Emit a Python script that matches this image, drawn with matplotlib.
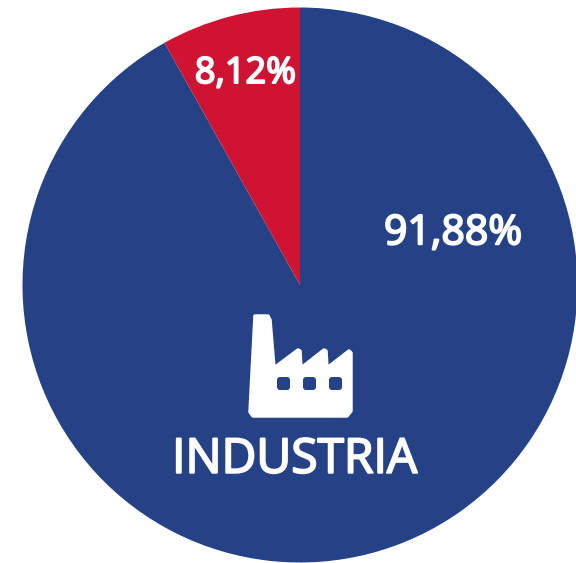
import matplotlib
matplotlib.use("Agg")
import matplotlib.pyplot as plt
import matplotlib.patheffects as pe
from matplotlib.path import Path
from matplotlib.patches import PathPatch, FancyBboxPatch

labels = ["91,88%", "8,12%"]
values = [91.88, 8.12]
colors = ["#264287", "#CE1432"]
title = "INDUSTRIA"

W, H = 576, 563
fig = plt.figure(figsize=(W/100, H/100), dpi=100)
ax = fig.add_axes([0, 0, 1, 1])
cx, cy, r = 300, 285, 277.5
ax.pie(values, colors=colors, startangle=90, counterclock=False,
       center=(cx, H-cy), radius=r, frame=True)
ax.set_xlim(0, W); ax.set_ylim(0, H); ax.axis("off")

def T(x, y, s, size):
    ax.text(x, H-y, s, color="white", fontsize=size, ha="center", va="center",
            family=['Open Sans', 'DejaVu Sans'],
            path_effects=[pe.withStroke(linewidth=1.4, foreground="white")])

T(453, 234, labels[0], 29.5)
T(245.5, 74, labels[1], 26)
T(294.5, 460, title, 34.5)

# factory icon, in image pixels (inset by the stroke's half width)
pts = [(255,316),(268,316),(270,320),(274,368),(298,350),(300,351),(301,368),(324,350),
       (326,351),(327,368),(349,351),(351,353),(351,411),(347,416),(253,416),(250,412)]
ic = Path([(x, H-y) for x, y in pts] + [pts[0]],
          [Path.MOVETO] + [Path.LINETO]*(len(pts)-1) + [Path.CLOSEPOLY])
ax.add_patch(PathPatch(ic, fc="white", ec="white", lw=2.5, joinstyle="round"))
for x in (277, 303, 329):
    ax.add_patch(FancyBboxPatch((x+3, H-390+3), 7, 7, boxstyle="round,pad=3",
                                fc=colors[0], ec="none"))

fig.savefig("out.png", dpi=100, facecolor="white")
